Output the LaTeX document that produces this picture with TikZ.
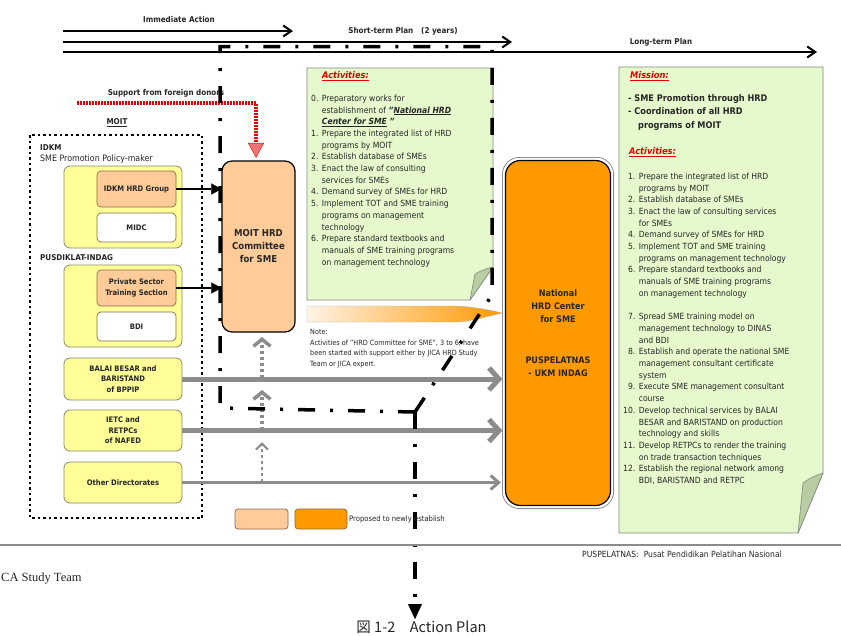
\documentclass[tikz,border=0pt]{standalone}
\usepackage{fontspec}
\setmainfont{DejaVu Sans Condensed}
\newfontfamily\capfont{Liberation Serif}
\newfontfamily\cjkfont{Noto Sans CJK JP}
\usepackage{tikz}
\usetikzlibrary{arrows.meta}
\definecolor{APYellow}{HTML}{FFFF99}
\definecolor{APOlive}{HTML}{8A8A66}
\definecolor{APPeach}{HTML}{FFCC99}
\definecolor{APBrown}{HTML}{8C6A48}
\definecolor{APOrange}{HTML}{FF9900}
\definecolor{APGreen}{HTML}{E6F9CC}
\definecolor{APFold}{HTML}{B9CDA3}
\definecolor{APEdge}{HTML}{7F8C7F}
\definecolor{APGray}{HTML}{8C8C8C}
\definecolor{APRed}{HTML}{E60000}
\definecolor{APText}{HTML}{262626}
\newcommand\apfs[2]{\fontsize{#1}{#2}\selectfont}
\newcommand\aptitle[1]{\textcolor{APRed}{\bfseries\itshape\underline{#1}}}

\begin{document}
\begin{tikzpicture}[x=1pt,y=-1pt,
  every node/.style={inner sep=0pt,text=APText},
  lbl/.style={font=\bfseries\apfs{8}{10}},
  grp/.style={draw=APOlive,fill=APYellow,rounded corners=6pt,line width=.8pt,
    minimum width=118pt,align=center,font=\bfseries\apfs{7.6}{10.5}},
  unit/.style={draw=APBrown,fill=APPeach,rounded corners=4pt,line width=.7pt,
    minimum width=79pt,align=center,font=\bfseries\apfs{7.6}{10.5}},
  notebox/.style={draw=APEdge,fill=APGreen,line width=.8pt},
  fold/.style={draw=APEdge,fill=APFold,line width=.6pt,line join=round},
  lst/.style={anchor=north west,font=\apfs{8.5}{11.7}},
  timeline/.style={line width=2pt,-{Straight Barb[length=8pt,width=11pt]}},
  ddash/.style={line width=3.5pt,dash pattern=on 17pt off 15pt on 3pt off 15pt},
  blkarrow/.style={line width=2.5pt,-{Triangle[length=10pt,width=11pt,line width=.1pt]}},
  grayarrow/.style={draw=APGray,line width=5pt,-{Straight Barb[length=10pt,width=22pt]}},
  thingray/.style={draw=APGray,line width=3pt,-{Straight Barb[length=8pt,width=14pt]}},
  uparrow/.style={draw=APGray,line width=3.5pt,dash pattern=on 3pt off 3pt,
    -{Straight Barb[length=7pt,width=17pt]}},
  donorline/.style={draw=APRed,line width=4.5pt,dash pattern=on 1.5pt off 1.5pt,
    -{Triangle[length=15pt,width=16pt,line width=.4pt,fill=APRed!55]}}]
\clip (0,0) rectangle (841,635);
\fill[white] (0,0) rectangle (841,635);

% time frames
\coordinate (ia0) at (63,31);  \coordinate (ia1) at (293,31);
\coordinate (st0) at (63,42);  \coordinate (st1) at (512,42);
\coordinate (lt0) at (63,52);  \coordinate (lt1) at (817,52);
\draw[timeline] (ia0) -- (ia1);
\draw[timeline] (st0) -- (st1);
\draw[timeline] (lt0) -- (lt1);
\node[lbl] (immlbl) at (179,20) {Immediate Action};
\node[lbl] (stlbl) at (403,31) {Short-term Plan\hspace{8pt}(2 years)};
\node[lbl] (ltlbl) at (661,42) {Long-term Plan};

% activity notes
\draw[notebox] (307,68) -- (493,68) -- (493,267) -- (470,300) -- (307,300) -- cycle;
\draw[fold] (470,300) -- (475,274) .. controls (482,270) and (488,268) .. (493,267) -- cycle;
\draw[notebox] (619,67) -- (823,67) -- (823,473) -- (798,533) -- (619,533) -- cycle;
\draw[fold] (798,533) -- (803,483) .. controls (810,478) and (816,475) .. (823,473) -- cycle;
\shadedraw[draw=APGray!70,line width=.4pt,left color=APPeach!25,right color=APOrange]
  (307,306) -- (455,306) .. controls (475,307) and (490,310) .. (502,313)
  .. controls (488,316) and (470,322) .. (455,322) -- (307,322) -- cycle;

\node[anchor=west,font=\apfs{9.2}{11}] (act1ttl) at (322,76) {\aptitle{Activities:}};
\node[lst] (act1) at (311,93) {\begin{tabular}{@{}r@{\hspace{3.5pt}}l@{}}
0. & Preparatory works for\\
   & establishment of \textbf{\itshape "\underline{National HRD}}\\
   & \textbf{\itshape\underline{Center for SME} "}\\
1. & Prepare the integrated list of HRD\\
   & programs by MOIT\\
2. & Establish database of SMEs\\
3. & Enact the law of consulting\\
   & services for SMEs\\
4. & Demand survey of SMEs for HRD\\
5. & Implement TOT and SME training\\
   & programs on management\\
   & technology\\
6. & Prepare standard textbooks and\\
   & manuals of SME training programs\\
   & on management technology
\end{tabular}};
\node[anchor=north west,align=left,font=\apfs{7.2}{10.7}] (note) at (310,329)
  {Note:\\Activities of "HRD Committee for SME", 3 to 6, have\\been started with support either by JICA HRD Study\\Team or JICA expert.};

\node[anchor=west,font=\apfs{9.2}{11}] (missttl) at (630,76) {\aptitle{Mission:}};
\node[anchor=north west,align=left,font=\bfseries\apfs{9.1}{13.5}] (mission) at (628,94)
  {- SME Promotion through HRD\\- Coordination of all HRD\\\hspace*{10pt}programs of MOIT};
\node[anchor=west,font=\apfs{9.2}{11}] (act2ttl) at (629,152) {\aptitle{Activities:}};
\node[lst] (act2) at (623,171) {\begin{tabular}{@{}r@{\hspace{3.5pt}}l@{}}
1. & Prepare the integrated list of HRD\\
   & programs by MOIT\\
2. & Establish database of SMEs\\
3. & Enact the law of consulting services\\
   & for SMEs\\
4. & Demand survey of SMEs for HRD\\
5. & Implement TOT and SME training\\
   & programs on management technology\\
6. & Prepare standard textbooks and\\
   & manuals of SME training programs\\
   & on management technology\\
   & \\
7. & Spread SME training model on\\
   & management technology to DINAS\\
   & and BDI\\
8. & Establish and operate the national SME\\
   & management consultant certificate\\
   & system\\
9. & Execute SME management consultant\\
   & course\\
10. & Develop technical services by BALAI\\
   & BESAR and BARISTAND on production\\
   & technology and skills\\
11. & Develop RETPCs to render the training\\
   & on trade transaction techniques\\
12. & Establish the regional network among\\
   & BDI, BARISTAND and RETPC
\end{tabular}};

% MOIT side
\draw[line width=2.5pt,dash pattern=on 2.5pt off 3pt] (30,135) rectangle (202,518);
\node[lbl] (moitlbl) at (117,123) {\underline{MOIT}};
\node[anchor=west,lbl] (idkmlbl) at (40,148) {IDKM};
\node[anchor=west,font=\apfs{8.8}{10}] (idkmsub) at (40,159) {SME Promotion Policy-maker};
\node[anchor=west,lbl] (puslbl) at (40,258) {PUSDIKLAT-INDAG};
\node[grp,minimum height=82pt] (idkmgrp) at (123,207) {};
\node[unit,minimum height=36pt] (idkmhrd) at (136.5,189) {IDKM HRD Group};
\node[unit,fill=white,minimum height=29pt] (midc) at (136.5,227.5) {MIDC};
\node[grp,minimum height=82pt] (pusgrp) at (123,306) {};
\node[unit,minimum height=36pt] (private) at (136.5,288) {Private Sector\\Training Section};
\node[unit,fill=white,minimum height=29pt] (bdi) at (136.5,326.5) {BDI};
\node[grp,minimum height=42pt] (balai) at (123,379) {BALAI BESAR and\\BARISTAND\\of BPPIP};
\node[grp,minimum height=41pt] (ietc) at (123,430.5) {IETC and\\RETPCs\\of NAFED};
\node[grp,minimum height=41pt] (other) at (123,482.5) {Other Directorates};

\node[draw=black,fill=APPeach,rounded corners=10pt,line width=1.2pt,minimum width=73pt,
  minimum height=171pt,align=center,font=\bfseries\apfs{9.5}{13}] (moit) at (258.5,246.5)
  {MOIT HRD\\Committee\\for SME};
\node[draw=black,fill=APOrange,rounded corners=15pt,line width=1.2pt,minimum width=105pt,
  minimum height=345pt,align=center,font=\bfseries\apfs{9}{13.4}] (nhrd) at (558,333)
  {National\\HRD Center\\for SME\\[26.8pt]PUSPELATNAS\\- UKM INDAG};
\draw[APGray,line width=.8pt,rounded corners=17pt]
  ([shift={(-2.5pt,2.5pt)}]nhrd.north west) rectangle ([shift={(2.5pt,-2.5pt)}]nhrd.south east);

% connectors
\draw[blkarrow] (idkmhrd.east) -- (idkmhrd.east -| moit.west);
\draw[blkarrow] (private.east) -- (private.east -| moit.west);
\draw[grayarrow,shorten >=2.5pt] (balai.east) -- (balai.east -| nhrd.west);
\draw[grayarrow,shorten >=2.5pt] (ietc.east) -- (ietc.east -| nhrd.west);
\draw[thingray,shorten >=4pt] (other.east) -- (other.east -| nhrd.west);
\coordinate (up1a) at (262,378); \coordinate (up1b) at (262,337);
\coordinate (up2a) at (262,430); \coordinate (up2b) at (262,390);
\coordinate (up3a) at (262,482); \coordinate (up3b) at (262,442);
\draw[uparrow] (up1a) -- (up1b);
\draw[uparrow] (up2a) -- (up2b);
\draw[uparrow,line width=2.2pt,-{Straight Barb[length=6pt,width=12pt]}] (up3a) -- (up3b);
\coordinate (donor) at (77,103);
\node[lbl] (donorlbl) at (166,93) {Support from foreign donors};
\draw[donorline,shorten >=2.5pt] (donor) -| ([xshift=-2.5pt]moit.north);

% short-term frame
\coordinate (dd1) at (415,412); \coordinate (dd2) at (220,408);
\coordinate (dd3) at (220,46.5); \coordinate (dd4) at (492,46.5);
\coordinate (dd5) at (492,295); \coordinate (ddend) at (415,619);
\draw[ddash] (dd1) -- (dd2) -- (dd3) -- (dd4) -- (dd5) -- (dd1);
\draw[ddash,-{Triangle[length=15pt,width=14pt,line width=.1pt]}] (dd1) -- (ddend);

% legend
\node[draw=APBrown,fill=APPeach,rounded corners=3pt,line width=.7pt,minimum width=53pt,
  minimum height=20pt] (legpeach) at (261.5,519) {};
\node[draw=APBrown,fill=APOrange,rounded corners=3pt,line width=.7pt,minimum width=52pt,
  minimum height=20pt] (legorange) at (321,519) {};
\node[anchor=west,font=\apfs{7.6}{9}] (legtxt) at (349,519) {Proposed to newly establish};

% foot
\draw[APGray,line width=1.5pt] (0,545) -- (841,545);
\node[anchor=west,font=\apfs{8.5}{10}] (abbr) at (582,554) {PUSPELATNAS:\hspace{5pt}Pusat Pendidikan Pelatihan Nasional};
\node[anchor=base west,font=\capfont\apfs{12.5}{14}] (source) at (1,581) {CA Study Team};
\node[anchor=base,font=\cjkfont\apfs{14.5}{17}] (caption) at (421.5,632) {図 1-2　Action Plan};
\end{tikzpicture}
\end{document}
